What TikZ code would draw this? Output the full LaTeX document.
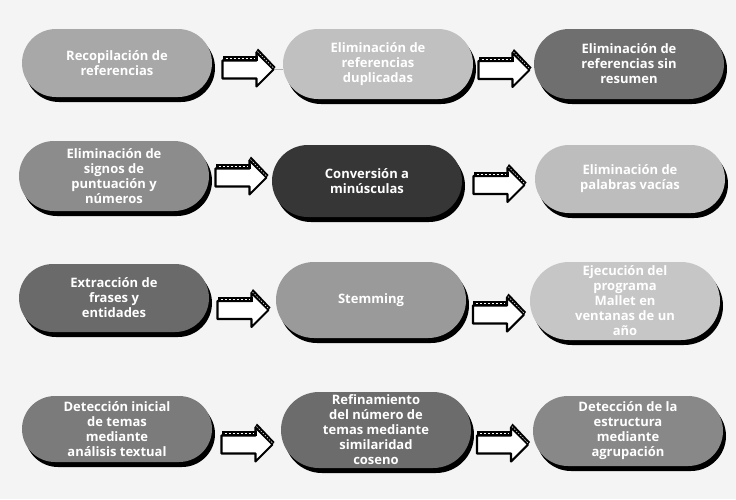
\documentclass[tikz,border=0pt]{standalone}
\usepackage{fontspec}
\setmainfont{Open Sans}
\usetikzlibrary{calc,shadows}
\definecolor{bg}{HTML}{F4F4F4}
\definecolor{cAa}{HTML}{A8A8A8}
\definecolor{cAb}{HTML}{C0C0C0}
\definecolor{cAc}{HTML}{6F6F6F}
\definecolor{cBa}{HTML}{8C8C8C}
\definecolor{cBb}{HTML}{363636}
\definecolor{cBc}{HTML}{BDBDBD}
\definecolor{cCa}{HTML}{6A6A6A}
\definecolor{cCb}{HTML}{9A9A9A}
\definecolor{cCc}{HTML}{C6C6C6}
\definecolor{cDa}{HTML}{7B7B7B}
\definecolor{cDb}{HTML}{6C6C6C}
\definecolor{cDc}{HTML}{888888}
\tikzset{
  pill/.style={draw=none, rounded corners=34pt, minimum width=190pt, minimum height=68pt,
    inner sep=1pt, align=center, text=white,
    font=\bfseries\fontsize{13}{15}\selectfont,
    drop shadow={shadow xshift=3pt, shadow yshift=-5pt, fill=black, opacity=1}},
  blockarrow/.pic={
    \path[fill=white, draw=black, line width=2.1pt, line join=round]
      (-25,-9) -- (9,-9) -- (9,-17) -- (26,0) -- (9,17) -- (9,9) -- (-25,9) -- cycle;
    \fill[black] (-25,-13.5) -- (10,-13.5) -- (10,-8.5) -- (-25,-8.5) -- cycle;
    \draw[white, line width=0.6pt, dash pattern=on 2pt off 2pt] (-22,-11) -- (7,-11);
    \fill[black] (8,-17) -- (10.5,-21) -- (28,-2.5) -- (26,0) -- cycle;
    \draw[white, line width=0.5pt, dash pattern=on 1.5pt off 1.5pt] (10,-18) -- (26,-1.5);
  }
}
\begin{document}
\begin{tikzpicture}[x=1pt, y=-1pt]
\fill[bg] (0,0) rectangle (736,499);
\useasboundingbox (0,0) rectangle (736,499);

% row 1
\node[pill, fill=cAa] (A1) at (117,63) {Recopilación de\\referencias};
\node[pill, fill=cAb, minimum height=70pt, rounded corners=35pt] (A2) at (378,64) {Eliminación de\\referencias\\duplicadas};
\node[pill, fill=cAc, minimum height=70pt, rounded corners=35pt] (A3) at (629,64) {Eliminación de\\referencias sin\\resumen};
% row 2
\node[pill, fill=cBa, minimum height=70pt, rounded corners=35pt] (B1) at (114,176) {Eliminación de\\signos de\\puntuación y\\números};
\node[pill, fill=cBb, minimum height=72pt, rounded corners=36pt] (B2) at (367,181) {Conversión a\\minúsculas};
\node[pill, fill=cBc] (B3) at (630,179) {Eliminación de\\palabras vacías};
% row 3
\node[pill, fill=cCa] (C1) at (114,298) {Extracción de\\frases y\\entidades};
\node[pill, fill=cCb, minimum height=76pt, rounded corners=38pt] (C2) at (371,300) {Stemming};
\node[pill, fill=cCc, minimum height=78pt, rounded corners=39pt] (C3) at (625,301) {Ejecución del\\programa\\Mallet en\\ventanas de un\\año};
% row 4
\node[pill, fill=cDa, minimum height=66pt, rounded corners=33pt] (D1) at (117,429) {Detección inicial\\de temas\\mediante\\análisis textual};
\node[pill, fill=cDb, minimum height=76pt, rounded corners=38pt] (D2) at (376,430) {Refinamiento\\del número de\\temas mediante\\similaridad\\coseno};
\node[pill, fill=cDc, minimum height=70pt, rounded corners=35pt] (D3) at (628,431) {Detección de la\\estructura\\mediante\\agrupación};

% arrows
\coordinate (mA1) at ($(A1.east)!0.5!(A2.west)+(0,6)$);
\coordinate (mA2) at ($(A2.east)!0.5!(A3.west)+(0,6)$);
\coordinate (mB1) at ($(B1.east)!0.5!(B2.west)+(0,-1)$);
\coordinate (mB2) at ($(B2.east)!0.5!(B3.west)+(0,5)$);
\coordinate (mC1) at ($(C1.east)!0.5!(C2.west)+(0,11)$);
\coordinate (mC2) at ($(C2.east)!0.5!(C3.west)+(0,14)$);
\coordinate (mD1) at ($(D1.east)!0.5!(D2.west)+(0,15)$);
\coordinate (mD2) at ($(D2.east)!0.5!(D3.west)+(0,14)$);
\draw[gray!60, line width=0.5pt] ($(mA1)+(26,0)$) -- (A2.west |- mA1);
\foreach \m in {mA1,mA2,mB1,mB2,mC1,mC2,mD1,mD2} { \pic at (\m) {blockarrow}; }
\end{tikzpicture}
\end{document}
